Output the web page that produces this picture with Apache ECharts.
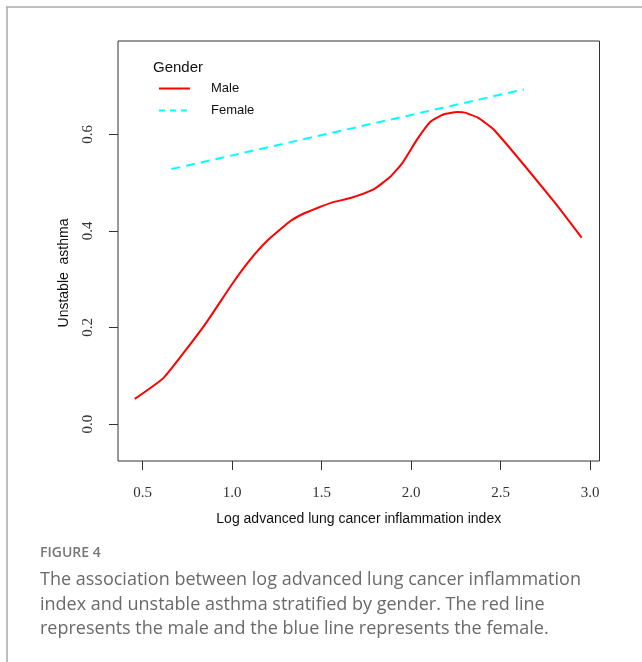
<!DOCTYPE html>
<html>
<head>
<meta charset="utf-8">
<script src="https://cdn.jsdelivr.net/npm/echarts@6/dist/echarts.min.js"></script>
<style>
html,body{margin:0;padding:0;background:#fff;}
#chart{width:642px;height:662px;}
</style>
</head>
<body>
<div id="chart"></div>
<script>
// Data
var xTicks = [0.5, 1.0, 1.5, 2.0, 2.5, 3.0];
var yTicks = [0.0, 0.2, 0.4, 0.6];
var maleX = [0.456, 0.618, 0.848, 1.000, 1.100, 1.200, 1.324, 1.400, 1.473, 1.560, 1.661, 1.790, 1.884, 1.950, 2.033, 2.108, 2.180, 2.260, 2.300, 2.371, 2.462, 2.798, 2.953];
var maleY = [0.052, 0.096, 0.206, 0.290, 0.340, 0.381, 0.420, 0.436, 0.447, 0.459, 0.468, 0.486, 0.512, 0.540, 0.589, 0.626, 0.641, 0.646, 0.645, 0.635, 0.610, 0.461, 0.386];
var femaleX = [0.661, 2.630];
var femaleY = [0.528, 0.693];
var seriesNames = ['Male', 'Female'];

function pairs(xs, ys) { return xs.map(function (x, i) { return [x, ys[i]]; }); }

var chart = echarts.init(document.getElementById('chart'), null, {renderer: 'canvas'});
var option = {
  backgroundColor: '#ffffff',
  animation: false,
  grid: {
    left: 118, top: 41, right: 42.5, bottom: 201,
    show: true, borderColor: '#333', borderWidth: 1, backgroundColor: 'transparent',
    outerBoundsMode: 'none', containLabel: false
  },
  legend: {
    orient: 'vertical', left: 153, top: 77,
    itemWidth: 31, itemHeight: 10, itemGap: 9,
    data: [{name: seriesNames[0]}, {name: seriesNames[1], lineStyle: {type: [6, 5]}}],
    itemStyle: {opacity: 0},
    textStyle: {fontFamily: 'Liberation Sans', fontSize: 13, color: '#111', padding: [0, 0, 0, 16]}
  },
  xAxis: {
    type: 'value', min: 0.362, max: 3.053,
    axisLine: {show: false, onZero: false},
    splitLine: {show: false},
    axisTick: {show: true, length: 9, customValues: xTicks, lineStyle: {color: '#333', width: 1}},
    axisLabel: {customValues: xTicks, formatter: function (v) { return v.toFixed(1); },
      margin: 25, fontFamily: 'Liberation Serif', fontSize: 15, color: '#333'},
    name: 'Log advanced lung cancer inflammation index',
    nameLocation: 'middle', nameGap: 51,
    nameTextStyle: {fontFamily: 'Liberation Sans', fontSize: 14, color: '#111'}
  },
  yAxis: {
    type: 'value', min: -0.0766, max: 0.7933,
    axisLine: {show: false, onZero: false},
    splitLine: {show: false},
    axisTick: {show: true, length: 9, customValues: yTicks, lineStyle: {color: '#333', width: 1}},
    axisLabel: {customValues: yTicks, formatter: function (v) { return v.toFixed(1); },
      rotate: 90, margin: 22, fontFamily: 'Liberation Serif', fontSize: 15, color: '#333'},
    name: 'Unstable  asthma',
    nameLocation: 'middle', nameGap: 47,
    nameTextStyle: {fontFamily: 'Liberation Sans', fontSize: 14, color: '#111', padding: [0, 44, 0, 0]}
  },
  series: [
    {name: seriesNames[0], type: 'line', data: pairs(maleX, maleY), symbol: 'none', smooth: 0.15,
     lineStyle: {color: '#ff0000', width: 2}, itemStyle: {color: '#ff0000'}},
    {name: seriesNames[1], type: 'line', data: pairs(femaleX, femaleY), symbol: 'none', smooth: false,
     lineStyle: {color: '#00ffff', width: 2, type: [9, 6]}, itemStyle: {color: '#00ffff'}}
  ],
  graphic: [
    {type: 'line', shape: {x1: 6, y1: 7, x2: 642, y2: 7}, style: {stroke: '#aaaaaa', lineWidth: 1.5}},
    {type: 'line', shape: {x1: 7, y1: 7, x2: 7, y2: 662}, style: {stroke: '#aaaaaa', lineWidth: 1.5}},
    {type: 'text', left: 153, top: 60, style: {text: 'Gender', fontFamily: 'Liberation Sans', fontSize: 15, fill: '#111'}},
    {type: 'text', left: 40, top: 546, style: {text: 'FIGURE 4', fontFamily: 'Open Sans', fontSize: 14, fontWeight: 600, fill: '#777777'}},
    {type: 'text', left: 40, top: 568, style: {
      text: 'The association between log advanced lung cancer inflammation\nindex and unstable asthma stratified by gender. The red line\nrepresents the male and the blue line represents the female.',
      fontFamily: 'Open Sans', fontSize: 18, lineHeight: 24.5, fill: '#6a6a6a'}}
  ]
};
chart.setOption(option);
</script>
</body>
</html>
